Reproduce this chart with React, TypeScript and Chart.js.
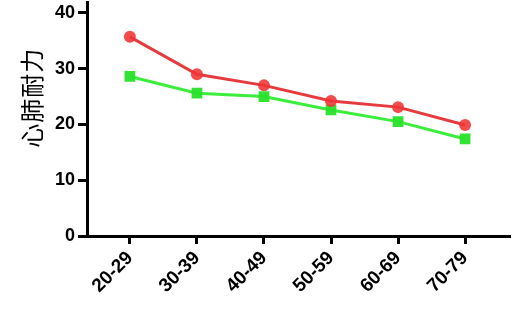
import React, { useEffect, useRef } from "react";
import { Chart, registerables } from "chart.js";

Chart.register(...registerables);

const categories = ["20-29", "30-39", "40-49", "50-59", "60-69", "70-79"];
const redValues = [35.7, 29.0, 27.0, 24.2, 23.1, 19.9];
const greenValues = [28.6, 25.6, 25.0, 22.6, 20.5, 17.4];
const yTicks = [0, 10, 20, 30, 40];
const yTitle = "心肺耐力";

const SHIFT = 11;

const yTitlePlugin = {
  id: "yTitlePlugin",
  afterDraw(chart: any) {
    const { ctx, chartArea } = chart;
    const cy = chartArea.top + (chartArea.bottom - chartArea.top) * 0.407;
    ctx.save();
    ctx.translate(32, cy);
    ctx.rotate(-Math.PI / 2);
    ctx.font = "24px 'Noto Sans CJK SC', sans-serif";
    ctx.fillStyle = "#000";
    ctx.textAlign = "center";
    ctx.textBaseline = "middle";
    try {
      (ctx as any).letterSpacing = "1px";
    } catch (e) {}
    ctx.fillText(yTitle, 0, 0);
    ctx.restore();
  },
};

export default function App() {
  const ref = useRef<HTMLCanvasElement | null>(null);

  useEffect(() => {
    document.body.style.margin = "0";
    const ctx = ref.current;
    if (!ctx) return;
    const chart = new Chart(ctx, {
      type: "line",
      data: {
        datasets: [
          {
            label: "red",
            data: redValues.map((v, i) => ({ x: i, y: v })),
            borderColor: "#e63b3e",
            backgroundColor: "rgba(240,52,52,0.88)",
            borderWidth: 3,
            pointStyle: "circle",
            pointRadius: 6,
            pointBorderWidth: 0,
          },
          {
            label: "green",
            data: greenValues.map((v, i) => ({ x: i, y: v })),
            borderColor: "#3ded3d",
            backgroundColor: "rgba(40,225,40,0.95)",
            borderWidth: 3,
            pointStyle: "rect",
            pointRadius: 7.6,
            pointBorderWidth: 0,
          },
        ],
      },
      plugins: [yTitlePlugin],
      options: {
        animation: false,
        responsive: false,
        maintainAspectRatio: false,
        layout: { padding: { left: 0, right: 10, top: 0, bottom: 0 } },
        plugins: { legend: { display: false }, tooltip: { enabled: false } },
        scales: {
          x: {
            type: "linear",
            min: -0.64,
            max: 5.67,
            afterBuildTicks: (axis: any) => {
              axis.ticks = categories.map((_, i) => ({ value: i }));
            },
            afterFit: (axis: any) => {
              axis.height = 88;
            },
            ticks: {
              callback: (v: any) => categories[v] ?? "",
              minRotation: 45,
              maxRotation: 45,
              color: "#000",
              font: { family: "Liberation Sans, Arial, sans-serif", size: 19, weight: "bold" },
              padding: 3,
            },
            grid: {
              display: true,
              drawOnChartArea: false,
              drawTicks: true,
              tickLength: 8,
              tickWidth: 3,
              color: "#000",
            },
            border: { display: true, color: "#000", width: 3 },
          },
          y: {
            min: 0,
            max: 41.8,
            afterBuildTicks: (axis: any) => {
              axis.ticks = yTicks.map((v) => ({ value: v }));
            },
            afterFit: (axis: any) => {
              axis.width = 87;
            },
            ticks: {
              color: "#000",
              font: { family: "Liberation Sans, Arial, sans-serif", size: 18, weight: "bold" },
              padding: 3,
            },
            grid: {
              display: true,
              drawOnChartArea: false,
              drawTicks: true,
              tickLength: 9,
              tickWidth: 3,
              color: "#000",
            },
            border: { display: true, color: "#000", width: 3 },
          },
        },
      },
    });
    return () => chart.destroy();
  }, []);

  return (
    <div style={{ position: "absolute", left: 0, top: 0, width: 520, height: 324, overflow: "hidden", background: "#fff" }}>
      <canvas
        ref={ref}
        width={520}
        height={324 + SHIFT}
        style={{ display: "block", position: "absolute", left: 0, top: -SHIFT }}
      />
    </div>
  );
}
